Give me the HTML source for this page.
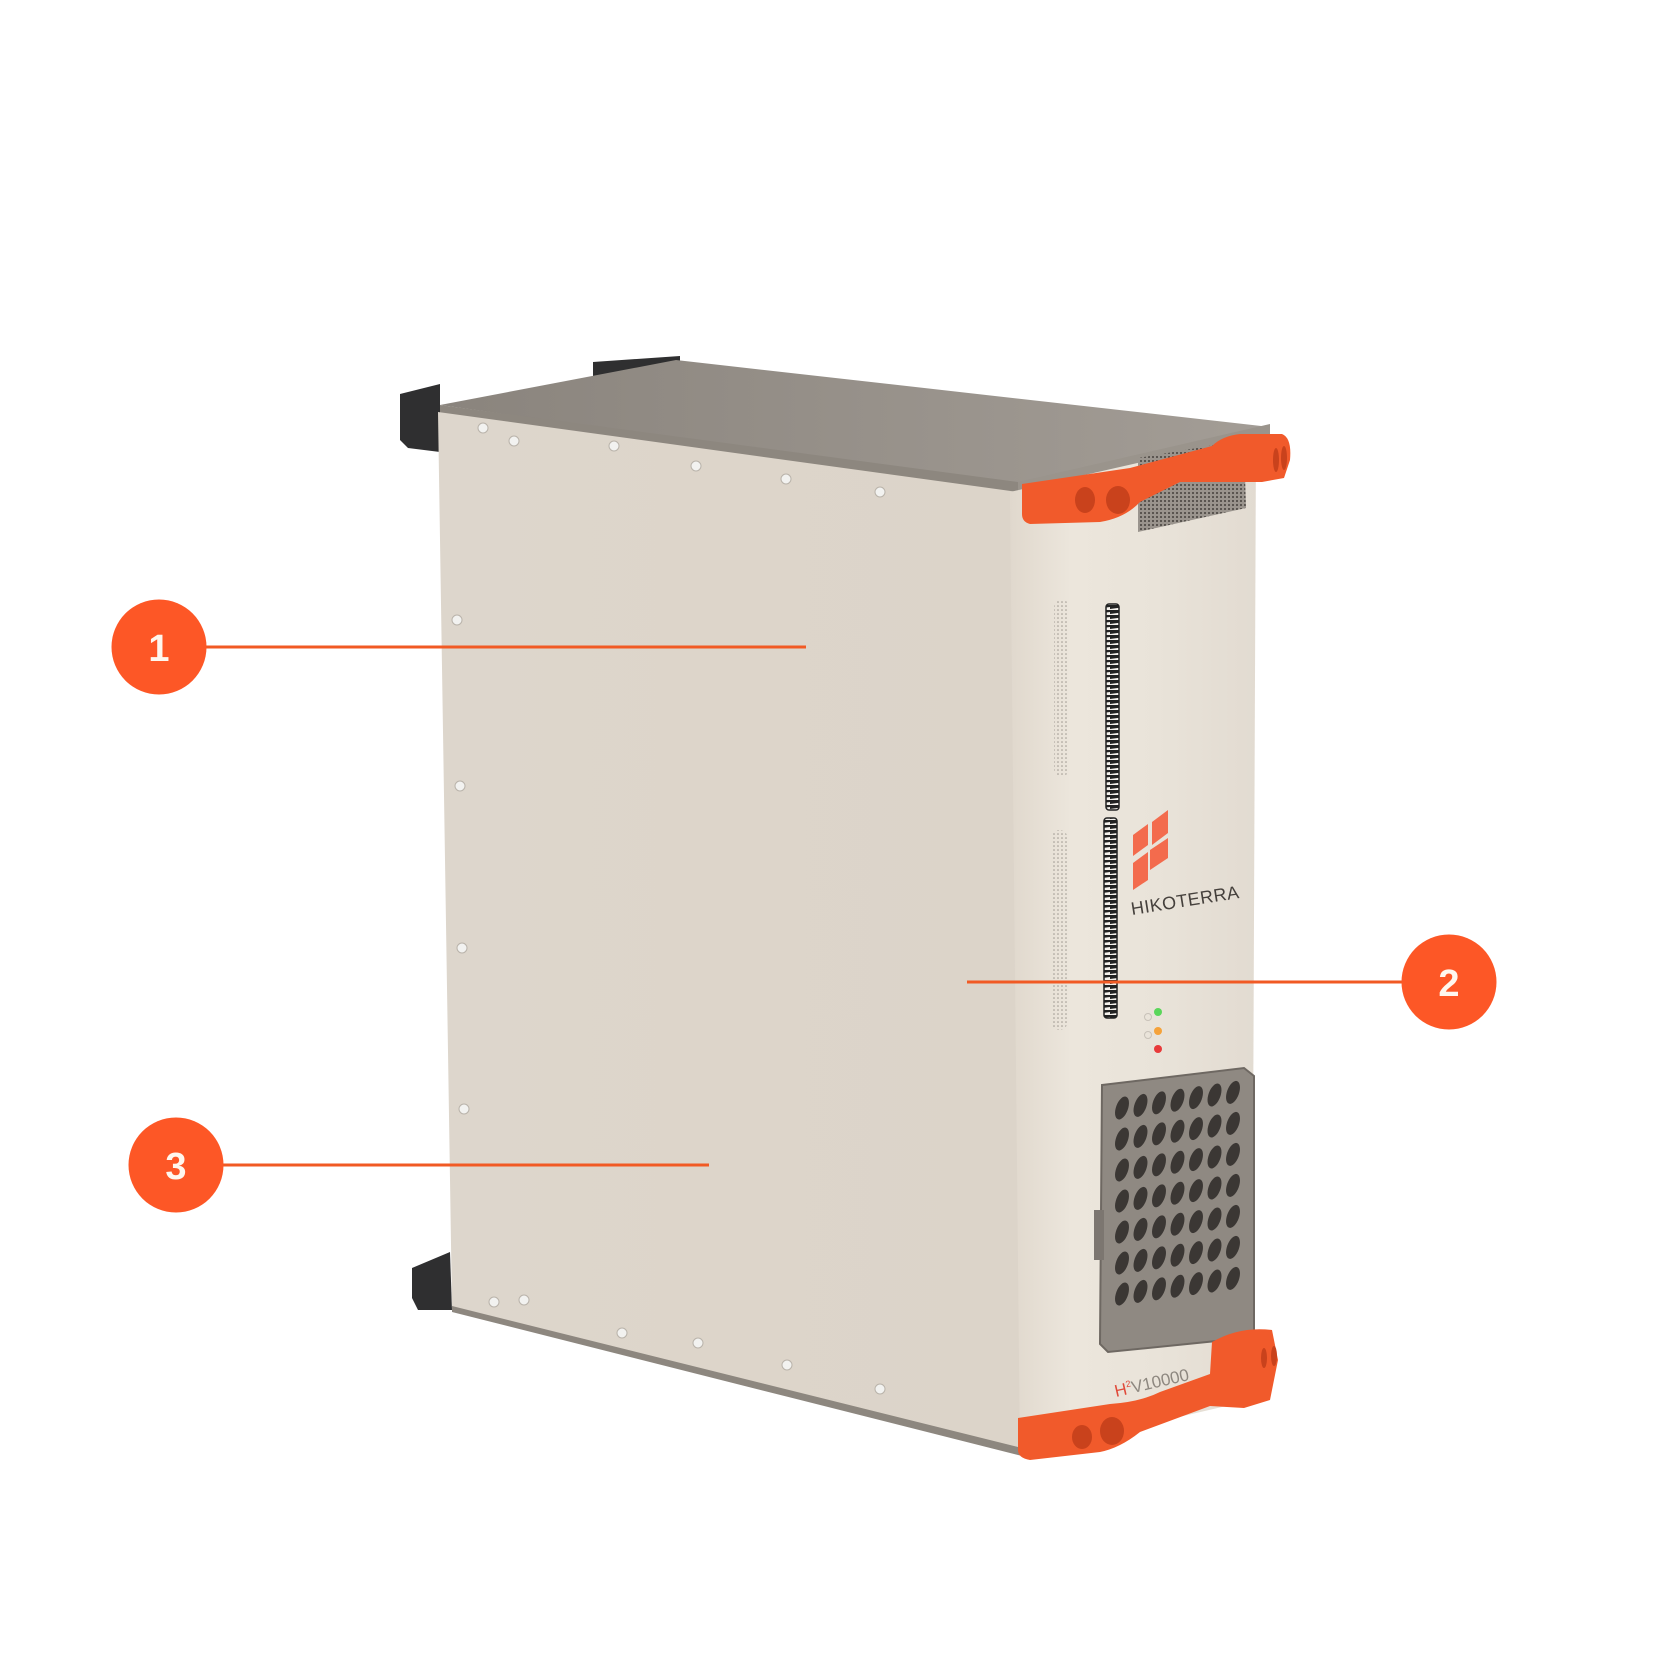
<!DOCTYPE html>
<html><head><meta charset="utf-8"><style>
html,body{margin:0;padding:0;background:#fff}
svg{display:block}
text{font-family:"Liberation Sans",sans-serif}
</style></head><body>
<svg width="1680" height="1680" viewBox="0 0 1680 1680" xmlns="http://www.w3.org/2000/svg">
<defs>
<linearGradient id="lf" x1="0" x2="1" y1="0" y2="0">
<stop offset="0" stop-color="#ddd6cc"/><stop offset="0.5" stop-color="#ddd5ca"/><stop offset="1" stop-color="#dcd4c9"/>
</linearGradient>
<linearGradient id="rf" x1="0" x2="1" y1="0" y2="0">
<stop offset="0" stop-color="#e0d8cd"/><stop offset="0.25" stop-color="#ece6dc"/><stop offset="0.6" stop-color="#e9e3d9"/><stop offset="1" stop-color="#e2dbd1"/>
</linearGradient>
<linearGradient id="tp" x1="0" x2="1" y1="0" y2="0">
<stop offset="0" stop-color="#8a847d"/><stop offset="1" stop-color="#a39d96"/>
</linearGradient>
<pattern id="mesh" width="4" height="4" patternUnits="userSpaceOnUse">
<rect width="4" height="4" fill="#9a948d"/><rect width="2" height="2" fill="#5a5550"/>
</pattern>
<pattern id="dots" width="4" height="4" patternUnits="userSpaceOnUse">
<circle cx="2" cy="2" r="0.8" fill="#9d978f"/>
</pattern>
<pattern id="slot" width="15" height="5" patternUnits="userSpaceOnUse">
<rect width="15" height="5" fill="#f4f1ec"/><polygon points="0,0 15,-2 15,2 0,4" fill="#222"/>
</pattern>
</defs>

<polygon points="400,394 440,384 440,452 408,448 400,440" fill="#2f2f30"/>
<polygon points="593,362 680,356 680,372 593,376" fill="#2f2f30"/>
<polygon points="412,1268 450,1252 452,1310 418,1310 412,1298" fill="#2f2f30"/>

<polygon points="440,405 676,360 1270,427 1018,486" fill="url(#tp)"/>
<polygon points="440,405 1018,482 1018,496 440,418" fill="#8d877f"/>
<polygon points="1018,482 1270,424 1270,436 1018,496" fill="#9a948c"/>

<polygon points="438,412 1018,492 1022,1452 452,1308" fill="url(#lf)"/>
<polygon points="1010,492 1256,436 1252,1400 1020,1454" fill="url(#rf)"/>
<polygon points="452,1306 1022,1448 1022,1456 452,1312" fill="#8d877f"/>

<g fill="#f2f2f0" stroke="#b9b3aa" stroke-width="1">
<circle cx="483" cy="428" r="5"/><circle cx="514" cy="441" r="5"/><circle cx="614" cy="446" r="5"/>
<circle cx="696" cy="466" r="5"/><circle cx="786" cy="479" r="5"/><circle cx="880" cy="492" r="5"/>
<circle cx="457" cy="620" r="5"/><circle cx="460" cy="786" r="5"/><circle cx="462" cy="948" r="5"/>
<circle cx="464" cy="1109" r="5"/>
<circle cx="494" cy="1302" r="5"/><circle cx="524" cy="1300" r="5"/><circle cx="622" cy="1333" r="5"/>
<circle cx="698" cy="1343" r="5"/><circle cx="787" cy="1365" r="5"/><circle cx="880" cy="1389" r="5"/>
</g>

<rect x="1054" y="600" width="15" height="176" rx="7" fill="url(#dots)"/>
<rect x="1052" y="830" width="15" height="200" rx="7" fill="url(#dots)"/>

<rect x="1106" y="604" width="13" height="206" rx="3" fill="url(#slot)" stroke="#222" stroke-width="1.5"/>
<rect x="1104" y="818" width="13" height="200" rx="3" fill="url(#slot)" stroke="#222" stroke-width="1.5"/>

<polygon points="1138,458 1244,440 1246,508 1138,532" fill="url(#mesh)"/>

<g fill="#f36b4d">
<polygon points="1133,835 1148,824 1148,845 1133,856"/>
<polygon points="1152,822 1168,810 1168,833 1152,845"/>
<polygon points="1150,850 1168,838 1168,858 1150,870"/>
<polygon points="1133,863 1148,852 1148,880 1133,890"/>
</g>
<text x="1132" y="915" font-size="18" fill="#45403c" transform="rotate(-9 1132 915)" letter-spacing="0.5">HIKOTERRA</text>

<g stroke="#c8c2b9" fill="none"><circle cx="1148" cy="1017" r="3.5"/><circle cx="1148" cy="1035" r="3.5"/></g>
<circle cx="1158" cy="1012" r="4" fill="#5ad65a"/>
<circle cx="1158" cy="1031" r="4" fill="#f5a23a"/>
<circle cx="1158" cy="1049" r="4" fill="#e83a3a"/>

<polygon points="1102,1085 1244,1068 1254,1076 1254,1330 1246,1338 1108,1352 1100,1344" fill="#8f8982" stroke="#6e6862" stroke-width="2"/>
<rect x="1094" y="1210" width="10" height="50" fill="#7c7670"/>
<g fill="#3b3734" id="holes"></g>

<path d="M1018,1418 L1110,1404 Q1140,1402 1160,1392 L1210,1374 L1212,1342 Q1240,1326 1272,1330 L1278,1360 L1270,1400 L1244,1408 L1210,1406 L1140,1432 Q1120,1448 1100,1452 L1030,1460 Q1018,1458 1018,1450 Z" fill="#f15a2b"/>
<g fill="#c9421c"><ellipse cx="1082" cy="1437" rx="10" ry="12"/><ellipse cx="1112" cy="1431" rx="12" ry="14"/>
<ellipse cx="1264" cy="1358" rx="3" ry="10"/><ellipse cx="1274" cy="1356" rx="3" ry="10"/></g>
<text x="1116" y="1397" font-size="17" fill="#8d877f" transform="rotate(-13 1116 1397)"><tspan fill="#e04a3a">H</tspan><tspan font-size="9" dy="-7" fill="#e04a3a">2</tspan><tspan dy="7">V10000</tspan></text>

<path d="M1022,484 L1130,468 L1212,446 Q1222,436 1240,434 L1282,434 Q1292,438 1290,460 L1284,478 L1262,482 L1180,482 L1140,502 Q1125,518 1100,522 L1030,524 Q1022,522 1022,514 Z" fill="#f15a2b"/>
<g fill="#c9421c"><ellipse cx="1085" cy="500" rx="10" ry="13"/><ellipse cx="1118" cy="500" rx="12" ry="14"/>
<ellipse cx="1276" cy="460" rx="3" ry="12"/><ellipse cx="1284" cy="458" rx="3" ry="12"/></g>

<g stroke="#f15a24" stroke-width="3">
<line x1="205" y1="647" x2="806" y2="647"/>
<line x1="967" y1="982" x2="1402" y2="982"/>
<line x1="222" y1="1165" x2="709" y2="1165"/>
</g>
<g fill="#fd5726">
<circle cx="159" cy="647" r="47.5"/>
<circle cx="1449" cy="982" r="47.5"/>
<circle cx="176" cy="1165" r="47.5"/>
</g>
<g fill="#fff7ee" font-size="38" font-weight="bold" text-anchor="middle">
<text x="159" y="661">1</text>
<text x="1449" y="996">2</text>
<text x="176" y="1179">3</text>
</g>
</svg>
<script>
(function(){var g=document.getElementById('holes'),s='';
for(var r=0;r<7;r++)for(var c=0;c<7;c++){
var x=1122+c*18.5, y=1108+r*31-c*2.6;
s+='<ellipse cx="'+x+'" cy="'+y+'" rx="6" ry="12" transform="rotate(20 '+x+' '+y+')"/>';}
g.innerHTML=s;})();
</script>
</body></html>
